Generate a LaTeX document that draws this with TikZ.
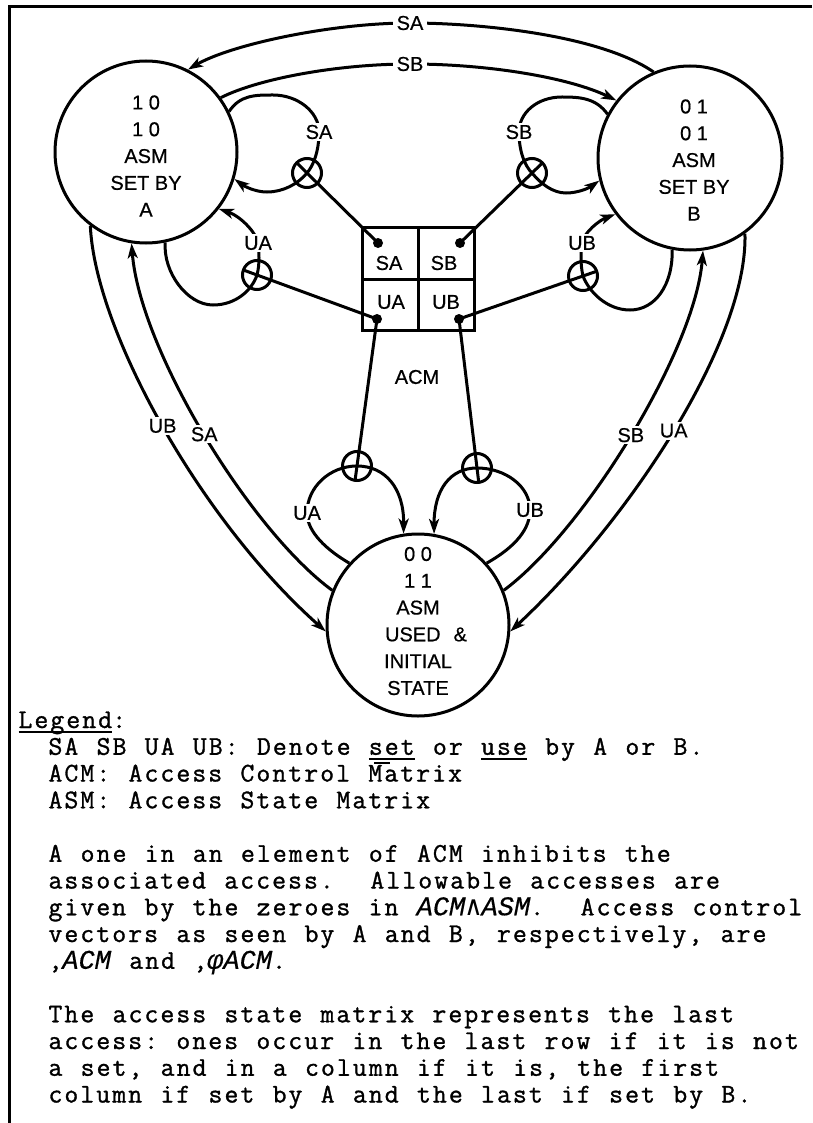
\documentclass[tikz,border=0pt]{standalone}
\usepackage{fontspec}
\setmainfont{Liberation Sans}[FakeBold=0.6]
\setmonofont{Latin Modern Mono}[FakeBold=1.2,LetterSpace=7.6,WordSpace=1.144]
\newfontfamily\monoit{Liberation Mono}[FakeBold=0.5]
\newfontfamily\symf{DejaVu Sans Mono}
\usetikzlibrary{arrows.meta,calc}
\newcommand\myul[1]{\setbox0\hbox{#1}\rlap{\vrule width\wd0 height -3pt depth 5pt}\box0\relax}
\newcommand\itx[1]{{\monoit\fontsize{27}{27}\selectfont\itshape #1}}
\begin{document}
\begin{tikzpicture}[x=1pt,y=-1pt,line width=3pt,
  state/.style={circle,draw,minimum size=182pt,inner sep=0pt},
  txt/.style={font=\fontsize{20}{26.8}\selectfont,align=center,inner sep=0pt},
  lbl/.style={font=\fontsize{20}{24}\selectfont,inner xsep=3.5pt,inner ysep=2pt},
  gap/.style={lbl,fill=white},
  junc/.style={circle,draw,minimum size=29pt,inner sep=0pt},
  dotn/.style={circle,fill,minimum size=10pt,inner sep=0pt},
  cell/.style={draw,minimum width=56pt,minimum height=51pt,inner sep=0pt},
  arr/.style={-{Stealth[length=15pt,width=10pt,inset=4pt]}},
  legend/.style={font=\ttfamily\fontsize{27}{27}\selectfont\frenchspacing,inner sep=0pt,anchor=base west}]
\useasboundingbox (0,0) rectangle (812,1123);
% frame
\draw (812,7) -- (9,7) -- (9,1123);
% states
\node[state] (A) at (146,152) {};
\node[state,minimum size=184pt] (B) at (690,158) {};
\node[state] (U) at (418,625) {};
\node[txt] (tA) at (146,156) {1 0\\1 0\\ASM\\SET BY\\A};
\node[txt] (tB) at (694,160) {0 1\\0 1\\ASM\\SET BY\\B};
\node[txt] (tU) at (418,621) {0 0\\1 1\\ASM\\\hspace*{16pt}USED\hspace{13pt}\&\\INITIAL\\STATE};
% ACM matrix
\node[cell] (cSA) at (390,253.5) {};
\node[cell] (cSB) at (446.5,253.5) {};
\node[cell] (cUA) at (390,304.5) {};
\node[cell] (cUB) at (446.5,304.5) {};
\node[lbl] (mSA) at (389,263) {SA};
\node[lbl] (mSB) at (444,263) {SB};
\node[lbl] (mUA) at (391,302) {UA};
\node[lbl] (mUB) at (446,302) {UB};
\node[lbl] (acm) at (417,377) {ACM};
\node[dotn] (dSA) at (378,243) {};
\node[dotn] (dSB) at (460,243) {};
\node[dotn] (dUA) at (377,319) {};
\node[dotn] (dUB) at (459,319) {};
% junctions
\node[junc] (jSA) at (307,173) {};
\node[junc] (jSB) at (532,173) {};
\node[junc] (jUA) at (257,275) {};
\node[junc] (jUB) at (583,276) {};
\node[junc] (jUA2) at (357,466) {};
\node[junc] (jUB2) at (477,468) {};
% connectors from ACM
\draw (dSA.center) -- ($(jSA.center)!-14.5pt!(dSA.center)$);
\draw (dSB.center) -- ($(jSB.center)!-14.5pt!(dSB.center)$);
\draw (dUA.center) -- ($(jUA.center)!-14.5pt!(dUA.center)$);
\draw (dUB.center) -- ($(jUB.center)!-14.5pt!(dUB.center)$);
\draw (dUA.center) -- ($(jUA2.center)!-14.5pt!(dUA.center)$);
\draw (dUB.center) -- ($(jUB2.center)!-14.5pt!(dUB.center)$);
% top arcs
\draw[arr] (B.113) .. controls (600,35) and (480,23) .. (410,23) .. controls (330,23) and (230,45) .. (A.63);
\draw[arr] (A.36) .. controls (260,78) and (340,64) .. (410,64) .. controls (490,64) and (570,78) .. (B.142);
\node[gap] (lSAt) at (410,23) {SA};
\node[gap] (lSBt) at (410,64) {SB};
% self loops
\draw[arr] (A.26) .. controls (240,95) and (255,95) .. (273,95)
  .. controls (298,95) and (319,112) .. (319,132)
  .. controls (319,152) and (313,166) .. (jSA.center)
  .. controls (298,184) and (283,192) .. (267,192)
  .. controls (255,192) and (244,186) .. (A.-17);
\node[gap] (lSAa) at (319,132) {SA};
\draw[arr] (B.152) .. controls (596,98) and (580,97) .. (562,97)
  .. controls (537,97) and (519,113) .. (519,132)
  .. controls (519,152) and (525,166) .. (jSB.center)
  .. controls (541,184) and (553,193) .. (566,193)
  .. controls (578,193) and (589,188) .. (B.194);
\node[gap] (lSBb) at (519,132) {SB};
\draw[arr] (A.-78) .. controls (163,272) and (187,305) .. (213,305)
  .. controls (236,305) and (252,290) .. (jUA.center)
  .. controls (260,263) and (259,252) .. (258,243)
  .. controls (256,232) and (240,216) .. (A.-38);
\node[gap] (lUAa) at (258,243) {UA};
\draw[arr] (B.-101) .. controls (673,285) and (655,310) .. (630,310)
  .. controls (607,310) and (589,292) .. (jUB.center)
  .. controls (580,263) and (581,252) .. (582,243)
  .. controls (584,232) and (600,220) .. (B.217);
\node[gap] (lUBb) at (582,243) {UB};
\draw[arr] (U.138) .. controls (320,546) and (307,528) .. (307,513)
  .. controls (307,487) and (330,466) .. (jUA2.center)
  .. controls (385,466) and (404,488) .. (U.99);
\node[gap] (lUAu) at (307,513) {UA};
\draw[arr] (U.42) .. controls (517,546) and (530,528) .. (530,510)
  .. controls (530,486) and (505,468) .. (jUB2.center)
  .. controls (450,468) and (434,490) .. (U.80);
\node[gap] (lUBu) at (530,510) {UB};
% long arcs
\draw[arr] (A.-127) .. controls (95,330) and (200,520) .. node[gap,pos=0.5] (lUBl) {UB} (U.184);
\draw[arr] (U.158) .. controls (250,530) and (140,350) .. node[gap,pos=0.5] (lSAl) {SA} (A.-99);
\draw[arr] (U.22) .. controls (585,530) and (695,350) .. node[gap,pos=0.5] (lSBr) {SB} (B.-82);
\draw[arr] (B.-54) .. controls (748,340) and (630,520) .. node[gap,pos=0.5] (lUAr) {UA} (U.-4);
% legend
\node[legend] (g1) at (17,728) {\myul{Legend}:};
\node[legend] (g2) at (47,754.75) {SA SB UA UB: Denote \myul{set} or \myul{use} by A or B.};
\node[legend] (g3) at (47,781.5) {ACM: Access Control Matrix};
\draw[line width=1.6pt] (374,763) -- (390,763);
\node[legend] (g4) at (47,808.25) {ASM: Access State Matrix};
\node[legend] (g6) at (47,861.75) {A one in an element of ACM inhibits the};
\node[legend] (g7) at (47,888.5) {associated access.\ \ Allowable accesses are};
\node[legend] (g8) at (47,915.25) {given by the zeroes in \itx{ACM{\symf ∧}ASM}.\ \ Access control};
\node[legend] (g9) at (47,942) {vectors as seen by A and B, respectively, are};
\node[legend] (g10) at (47,968.75) {,\itx{ACM} and ,\itx{φACM}.};
\node[legend] (g12) at (47,1022.25) {The access state matrix represents the last};
\node[legend] (g13) at (47,1049) {access: ones occur in the last row if it is not};
\node[legend] (g14) at (47,1075.75) {a set, and in a column if it is, the first};
\node[legend] (g15) at (47,1102.5) {column if set by A and the last if set by B.};
\end{tikzpicture}
\end{document}
